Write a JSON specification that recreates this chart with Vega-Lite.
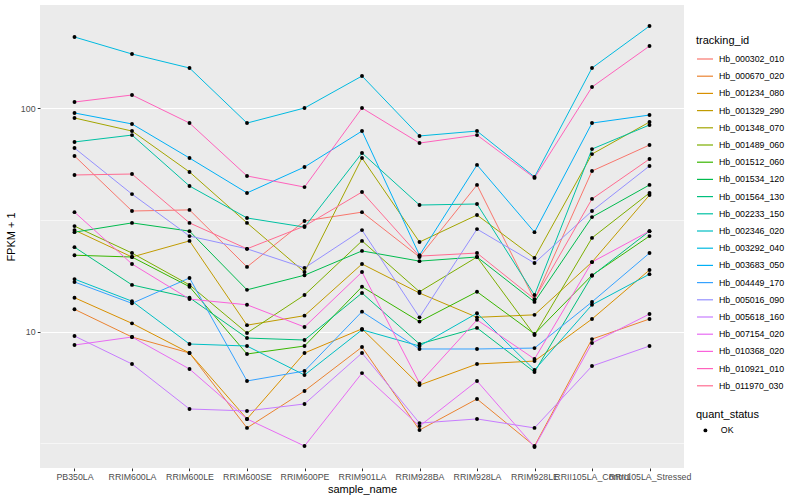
{
"$schema": "https://vega.github.io/schema/vega-lite/v6.json",
"width": 644,
"height": 463,
"autosize": {"type": "none"},
"padding": {"left": 40, "top": 5, "right": 116, "bottom": 32},
"background": "white",
"config": {
  "view": {"fill": "#EBEBEB", "stroke": null},
  "font": "Liberation Sans",
  "axis": {"labelFont": "Liberation Sans", "labelFontSize": 8.8, "labelColor": "#4D4D4D", "tickColor": "#333333", "tickSize": 2.75, "tickWidth": 1, "domain": false, "gridColor": "#FFFFFF", "gridWidth": 1.1, "titleFont": "Liberation Sans", "titleFontSize": 11, "titleFontWeight": "normal", "titleColor": "#000000", "labelPadding": 2.2},
  "legend": {"titleFont": "Liberation Sans", "titleFontSize": 11, "titleFontWeight": "normal", "titleColor": "#000000", "labelFont": "Liberation Sans", "labelFontSize": 8.8, "labelColor": "#000000"}
},
"data": {"values": [
{"tracking_id":"Hb_000302_010","sample_name":"PB350LA","fpkm_plus_1":61.2,"quant_status":"OK"},
{"tracking_id":"Hb_000302_010","sample_name":"RRIM600LA","fpkm_plus_1":34.7,"quant_status":"OK"},
{"tracking_id":"Hb_000302_010","sample_name":"RRIM600LE","fpkm_plus_1":35.1,"quant_status":"OK"},
{"tracking_id":"Hb_000302_010","sample_name":"RRIM600SE","fpkm_plus_1":19.5,"quant_status":"OK"},
{"tracking_id":"Hb_000302_010","sample_name":"RRIM600PE","fpkm_plus_1":31.3,"quant_status":"OK"},
{"tracking_id":"Hb_000302_010","sample_name":"RRIM901LA","fpkm_plus_1":34.3,"quant_status":"OK"},
{"tracking_id":"Hb_000302_010","sample_name":"RRIM928BA","fpkm_plus_1":21.6,"quant_status":"OK"},
{"tracking_id":"Hb_000302_010","sample_name":"RRIM928LA","fpkm_plus_1":45.4,"quant_status":"OK"},
{"tracking_id":"Hb_000302_010","sample_name":"RRIM928LE","fpkm_plus_1":13.9,"quant_status":"OK"},
{"tracking_id":"Hb_000302_010","sample_name":"RRII105LA_Control","fpkm_plus_1":52.4,"quant_status":"OK"},
{"tracking_id":"Hb_000302_010","sample_name":"RRII105LA_Stressed","fpkm_plus_1":68.5,"quant_status":"OK"},
{"tracking_id":"Hb_000670_020","sample_name":"PB350LA","fpkm_plus_1":12.6,"quant_status":"OK"},
{"tracking_id":"Hb_000670_020","sample_name":"RRIM600LA","fpkm_plus_1":9.47,"quant_status":"OK"},
{"tracking_id":"Hb_000670_020","sample_name":"RRIM600LE","fpkm_plus_1":8.03,"quant_status":"OK"},
{"tracking_id":"Hb_000670_020","sample_name":"RRIM600SE","fpkm_plus_1":3.71,"quant_status":"OK"},
{"tracking_id":"Hb_000670_020","sample_name":"RRIM600PE","fpkm_plus_1":5.43,"quant_status":"OK"},
{"tracking_id":"Hb_000670_020","sample_name":"RRIM901LA","fpkm_plus_1":8.54,"quant_status":"OK"},
{"tracking_id":"Hb_000670_020","sample_name":"RRIM928BA","fpkm_plus_1":3.63,"quant_status":"OK"},
{"tracking_id":"Hb_000670_020","sample_name":"RRIM928LA","fpkm_plus_1":5.0,"quant_status":"OK"},
{"tracking_id":"Hb_000670_020","sample_name":"RRIM928LE","fpkm_plus_1":3.08,"quant_status":"OK"},
{"tracking_id":"Hb_000670_020","sample_name":"RRII105LA_Control","fpkm_plus_1":9.27,"quant_status":"OK"},
{"tracking_id":"Hb_000670_020","sample_name":"RRII105LA_Stressed","fpkm_plus_1":11.4,"quant_status":"OK"},
{"tracking_id":"Hb_001234_080","sample_name":"PB350LA","fpkm_plus_1":14.2,"quant_status":"OK"},
{"tracking_id":"Hb_001234_080","sample_name":"RRIM600LA","fpkm_plus_1":10.9,"quant_status":"OK"},
{"tracking_id":"Hb_001234_080","sample_name":"RRIM600LE","fpkm_plus_1":8.03,"quant_status":"OK"},
{"tracking_id":"Hb_001234_080","sample_name":"RRIM600SE","fpkm_plus_1":4.07,"quant_status":"OK"},
{"tracking_id":"Hb_001234_080","sample_name":"RRIM600PE","fpkm_plus_1":8.03,"quant_status":"OK"},
{"tracking_id":"Hb_001234_080","sample_name":"RRIM901LA","fpkm_plus_1":10.3,"quant_status":"OK"},
{"tracking_id":"Hb_001234_080","sample_name":"RRIM928BA","fpkm_plus_1":5.77,"quant_status":"OK"},
{"tracking_id":"Hb_001234_080","sample_name":"RRIM928LA","fpkm_plus_1":7.17,"quant_status":"OK"},
{"tracking_id":"Hb_001234_080","sample_name":"RRIM928LE","fpkm_plus_1":7.39,"quant_status":"OK"},
{"tracking_id":"Hb_001234_080","sample_name":"RRII105LA_Control","fpkm_plus_1":11.4,"quant_status":"OK"},
{"tracking_id":"Hb_001234_080","sample_name":"RRII105LA_Stressed","fpkm_plus_1":18.9,"quant_status":"OK"},
{"tracking_id":"Hb_001329_290","sample_name":"PB350LA","fpkm_plus_1":28.5,"quant_status":"OK"},
{"tracking_id":"Hb_001329_290","sample_name":"RRIM600LA","fpkm_plus_1":21.6,"quant_status":"OK"},
{"tracking_id":"Hb_001329_290","sample_name":"RRIM600LE","fpkm_plus_1":25.5,"quant_status":"OK"},
{"tracking_id":"Hb_001329_290","sample_name":"RRIM600SE","fpkm_plus_1":10.7,"quant_status":"OK"},
{"tracking_id":"Hb_001329_290","sample_name":"RRIM600PE","fpkm_plus_1":11.8,"quant_status":"OK"},
{"tracking_id":"Hb_001329_290","sample_name":"RRIM901LA","fpkm_plus_1":20.1,"quant_status":"OK"},
{"tracking_id":"Hb_001329_290","sample_name":"RRIM928BA","fpkm_plus_1":14.9,"quant_status":"OK"},
{"tracking_id":"Hb_001329_290","sample_name":"RRIM928LA","fpkm_plus_1":11.6,"quant_status":"OK"},
{"tracking_id":"Hb_001329_290","sample_name":"RRIM928LE","fpkm_plus_1":11.9,"quant_status":"OK"},
{"tracking_id":"Hb_001329_290","sample_name":"RRII105LA_Control","fpkm_plus_1":20.5,"quant_status":"OK"},
{"tracking_id":"Hb_001329_290","sample_name":"RRII105LA_Stressed","fpkm_plus_1":40.9,"quant_status":"OK"},
{"tracking_id":"Hb_001348_070","sample_name":"PB350LA","fpkm_plus_1":90.5,"quant_status":"OK"},
{"tracking_id":"Hb_001348_070","sample_name":"RRIM600LA","fpkm_plus_1":79.1,"quant_status":"OK"},
{"tracking_id":"Hb_001348_070","sample_name":"RRIM600LE","fpkm_plus_1":51.9,"quant_status":"OK"},
{"tracking_id":"Hb_001348_070","sample_name":"RRIM600SE","fpkm_plus_1":30.7,"quant_status":"OK"},
{"tracking_id":"Hb_001348_070","sample_name":"RRIM600PE","fpkm_plus_1":18.5,"quant_status":"OK"},
{"tracking_id":"Hb_001348_070","sample_name":"RRIM901LA","fpkm_plus_1":59.9,"quant_status":"OK"},
{"tracking_id":"Hb_001348_070","sample_name":"RRIM928BA","fpkm_plus_1":25.2,"quant_status":"OK"},
{"tracking_id":"Hb_001348_070","sample_name":"RRIM928LA","fpkm_plus_1":33.3,"quant_status":"OK"},
{"tracking_id":"Hb_001348_070","sample_name":"RRIM928LE","fpkm_plus_1":21.4,"quant_status":"OK"},
{"tracking_id":"Hb_001348_070","sample_name":"RRII105LA_Control","fpkm_plus_1":62.4,"quant_status":"OK"},
{"tracking_id":"Hb_001348_070","sample_name":"RRII105LA_Stressed","fpkm_plus_1":86.8,"quant_status":"OK"},
{"tracking_id":"Hb_001489_060","sample_name":"PB350LA","fpkm_plus_1":29.7,"quant_status":"OK"},
{"tracking_id":"Hb_001489_060","sample_name":"RRIM600LA","fpkm_plus_1":22.5,"quant_status":"OK"},
{"tracking_id":"Hb_001489_060","sample_name":"RRIM600LE","fpkm_plus_1":16.2,"quant_status":"OK"},
{"tracking_id":"Hb_001489_060","sample_name":"RRIM600SE","fpkm_plus_1":9.87,"quant_status":"OK"},
{"tracking_id":"Hb_001489_060","sample_name":"RRIM600PE","fpkm_plus_1":14.6,"quant_status":"OK"},
{"tracking_id":"Hb_001489_060","sample_name":"RRIM901LA","fpkm_plus_1":25.5,"quant_status":"OK"},
{"tracking_id":"Hb_001489_060","sample_name":"RRIM928BA","fpkm_plus_1":15.1,"quant_status":"OK"},
{"tracking_id":"Hb_001489_060","sample_name":"RRIM928LA","fpkm_plus_1":21.6,"quant_status":"OK"},
{"tracking_id":"Hb_001489_060","sample_name":"RRIM928LE","fpkm_plus_1":9.66,"quant_status":"OK"},
{"tracking_id":"Hb_001489_060","sample_name":"RRII105LA_Control","fpkm_plus_1":26.3,"quant_status":"OK"},
{"tracking_id":"Hb_001489_060","sample_name":"RRII105LA_Stressed","fpkm_plus_1":41.8,"quant_status":"OK"},
{"tracking_id":"Hb_001512_060","sample_name":"PB350LA","fpkm_plus_1":22.0,"quant_status":"OK"},
{"tracking_id":"Hb_001512_060","sample_name":"RRIM600LA","fpkm_plus_1":21.6,"quant_status":"OK"},
{"tracking_id":"Hb_001512_060","sample_name":"RRIM600LE","fpkm_plus_1":15.9,"quant_status":"OK"},
{"tracking_id":"Hb_001512_060","sample_name":"RRIM600SE","fpkm_plus_1":7.95,"quant_status":"OK"},
{"tracking_id":"Hb_001512_060","sample_name":"RRIM600PE","fpkm_plus_1":8.63,"quant_status":"OK"},
{"tracking_id":"Hb_001512_060","sample_name":"RRIM901LA","fpkm_plus_1":15.9,"quant_status":"OK"},
{"tracking_id":"Hb_001512_060","sample_name":"RRIM928BA","fpkm_plus_1":11.1,"quant_status":"OK"},
{"tracking_id":"Hb_001512_060","sample_name":"RRIM928LA","fpkm_plus_1":15.1,"quant_status":"OK"},
{"tracking_id":"Hb_001512_060","sample_name":"RRIM928LE","fpkm_plus_1":9.77,"quant_status":"OK"},
{"tracking_id":"Hb_001512_060","sample_name":"RRII105LA_Control","fpkm_plus_1":17.9,"quant_status":"OK"},
{"tracking_id":"Hb_001512_060","sample_name":"RRII105LA_Stressed","fpkm_plus_1":26.8,"quant_status":"OK"},
{"tracking_id":"Hb_001534_120","sample_name":"PB350LA","fpkm_plus_1":27.9,"quant_status":"OK"},
{"tracking_id":"Hb_001534_120","sample_name":"RRIM600LA","fpkm_plus_1":30.7,"quant_status":"OK"},
{"tracking_id":"Hb_001534_120","sample_name":"RRIM600LE","fpkm_plus_1":28.2,"quant_status":"OK"},
{"tracking_id":"Hb_001534_120","sample_name":"RRIM600SE","fpkm_plus_1":15.4,"quant_status":"OK"},
{"tracking_id":"Hb_001534_120","sample_name":"RRIM600PE","fpkm_plus_1":17.9,"quant_status":"OK"},
{"tracking_id":"Hb_001534_120","sample_name":"RRIM901LA","fpkm_plus_1":23.0,"quant_status":"OK"},
{"tracking_id":"Hb_001534_120","sample_name":"RRIM928BA","fpkm_plus_1":20.7,"quant_status":"OK"},
{"tracking_id":"Hb_001534_120","sample_name":"RRIM928LA","fpkm_plus_1":21.6,"quant_status":"OK"},
{"tracking_id":"Hb_001534_120","sample_name":"RRIM928LE","fpkm_plus_1":13.6,"quant_status":"OK"},
{"tracking_id":"Hb_001534_120","sample_name":"RRII105LA_Control","fpkm_plus_1":32.6,"quant_status":"OK"},
{"tracking_id":"Hb_001534_120","sample_name":"RRII105LA_Stressed","fpkm_plus_1":45.4,"quant_status":"OK"},
{"tracking_id":"Hb_001564_130","sample_name":"PB350LA","fpkm_plus_1":23.9,"quant_status":"OK"},
{"tracking_id":"Hb_001564_130","sample_name":"RRIM600LA","fpkm_plus_1":16.2,"quant_status":"OK"},
{"tracking_id":"Hb_001564_130","sample_name":"RRIM600LE","fpkm_plus_1":14.2,"quant_status":"OK"},
{"tracking_id":"Hb_001564_130","sample_name":"RRIM600SE","fpkm_plus_1":9.37,"quant_status":"OK"},
{"tracking_id":"Hb_001564_130","sample_name":"RRIM600PE","fpkm_plus_1":9.18,"quant_status":"OK"},
{"tracking_id":"Hb_001564_130","sample_name":"RRIM901LA","fpkm_plus_1":14.9,"quant_status":"OK"},
{"tracking_id":"Hb_001564_130","sample_name":"RRIM928BA","fpkm_plus_1":8.81,"quant_status":"OK"},
{"tracking_id":"Hb_001564_130","sample_name":"RRIM928LA","fpkm_plus_1":10.4,"quant_status":"OK"},
{"tracking_id":"Hb_001564_130","sample_name":"RRIM928LE","fpkm_plus_1":6.6,"quant_status":"OK"},
{"tracking_id":"Hb_001564_130","sample_name":"RRII105LA_Control","fpkm_plus_1":17.8,"quant_status":"OK"},
{"tracking_id":"Hb_001564_130","sample_name":"RRII105LA_Stressed","fpkm_plus_1":28.2,"quant_status":"OK"},
{"tracking_id":"Hb_002233_150","sample_name":"PB350LA","fpkm_plus_1":70.7,"quant_status":"OK"},
{"tracking_id":"Hb_002233_150","sample_name":"RRIM600LA","fpkm_plus_1":75.9,"quant_status":"OK"},
{"tracking_id":"Hb_002233_150","sample_name":"RRIM600LE","fpkm_plus_1":44.9,"quant_status":"OK"},
{"tracking_id":"Hb_002233_150","sample_name":"RRIM600SE","fpkm_plus_1":32.3,"quant_status":"OK"},
{"tracking_id":"Hb_002233_150","sample_name":"RRIM600PE","fpkm_plus_1":29.4,"quant_status":"OK"},
{"tracking_id":"Hb_002233_150","sample_name":"RRIM901LA","fpkm_plus_1":63.1,"quant_status":"OK"},
{"tracking_id":"Hb_002233_150","sample_name":"RRIM928BA","fpkm_plus_1":36.9,"quant_status":"OK"},
{"tracking_id":"Hb_002233_150","sample_name":"RRIM928LA","fpkm_plus_1":37.3,"quant_status":"OK"},
{"tracking_id":"Hb_002233_150","sample_name":"RRIM928LE","fpkm_plus_1":14.6,"quant_status":"OK"},
{"tracking_id":"Hb_002233_150","sample_name":"RRII105LA_Control","fpkm_plus_1":65.7,"quant_status":"OK"},
{"tracking_id":"Hb_002233_150","sample_name":"RRII105LA_Stressed","fpkm_plus_1":84.2,"quant_status":"OK"},
{"tracking_id":"Hb_002346_020","sample_name":"PB350LA","fpkm_plus_1":17.2,"quant_status":"OK"},
{"tracking_id":"Hb_002346_020","sample_name":"RRIM600LA","fpkm_plus_1":13.7,"quant_status":"OK"},
{"tracking_id":"Hb_002346_020","sample_name":"RRIM600LE","fpkm_plus_1":8.81,"quant_status":"OK"},
{"tracking_id":"Hb_002346_020","sample_name":"RRIM600SE","fpkm_plus_1":8.63,"quant_status":"OK"},
{"tracking_id":"Hb_002346_020","sample_name":"RRIM600PE","fpkm_plus_1":6.4,"quant_status":"OK"},
{"tracking_id":"Hb_002346_020","sample_name":"RRIM901LA","fpkm_plus_1":10.2,"quant_status":"OK"},
{"tracking_id":"Hb_002346_020","sample_name":"RRIM928BA","fpkm_plus_1":8.63,"quant_status":"OK"},
{"tracking_id":"Hb_002346_020","sample_name":"RRIM928LA","fpkm_plus_1":12.1,"quant_status":"OK"},
{"tracking_id":"Hb_002346_020","sample_name":"RRIM928LE","fpkm_plus_1":6.74,"quant_status":"OK"},
{"tracking_id":"Hb_002346_020","sample_name":"RRII105LA_Control","fpkm_plus_1":13.2,"quant_status":"OK"},
{"tracking_id":"Hb_002346_020","sample_name":"RRII105LA_Stressed","fpkm_plus_1":18.1,"quant_status":"OK"},
{"tracking_id":"Hb_003292_040","sample_name":"PB350LA","fpkm_plus_1":208.5,"quant_status":"OK"},
{"tracking_id":"Hb_003292_040","sample_name":"RRIM600LA","fpkm_plus_1":175.0,"quant_status":"OK"},
{"tracking_id":"Hb_003292_040","sample_name":"RRIM600LE","fpkm_plus_1":151.5,"quant_status":"OK"},
{"tracking_id":"Hb_003292_040","sample_name":"RRIM600SE","fpkm_plus_1":85.9,"quant_status":"OK"},
{"tracking_id":"Hb_003292_040","sample_name":"RRIM600PE","fpkm_plus_1":100.3,"quant_status":"OK"},
{"tracking_id":"Hb_003292_040","sample_name":"RRIM901LA","fpkm_plus_1":139.5,"quant_status":"OK"},
{"tracking_id":"Hb_003292_040","sample_name":"RRIM928BA","fpkm_plus_1":75.2,"quant_status":"OK"},
{"tracking_id":"Hb_003292_040","sample_name":"RRIM928LA","fpkm_plus_1":79.1,"quant_status":"OK"},
{"tracking_id":"Hb_003292_040","sample_name":"RRIM928LE","fpkm_plus_1":49.3,"quant_status":"OK"},
{"tracking_id":"Hb_003292_040","sample_name":"RRII105LA_Control","fpkm_plus_1":151.5,"quant_status":"OK"},
{"tracking_id":"Hb_003292_040","sample_name":"RRII105LA_Stressed","fpkm_plus_1":233.5,"quant_status":"OK"},
{"tracking_id":"Hb_003683_050","sample_name":"PB350LA","fpkm_plus_1":95.3,"quant_status":"OK"},
{"tracking_id":"Hb_003683_050","sample_name":"RRIM600LA","fpkm_plus_1":85.1,"quant_status":"OK"},
{"tracking_id":"Hb_003683_050","sample_name":"RRIM600LE","fpkm_plus_1":59.9,"quant_status":"OK"},
{"tracking_id":"Hb_003683_050","sample_name":"RRIM600SE","fpkm_plus_1":41.8,"quant_status":"OK"},
{"tracking_id":"Hb_003683_050","sample_name":"RRIM600PE","fpkm_plus_1":54.6,"quant_status":"OK"},
{"tracking_id":"Hb_003683_050","sample_name":"RRIM901LA","fpkm_plus_1":79.1,"quant_status":"OK"},
{"tracking_id":"Hb_003683_050","sample_name":"RRIM928BA","fpkm_plus_1":22.0,"quant_status":"OK"},
{"tracking_id":"Hb_003683_050","sample_name":"RRIM928LA","fpkm_plus_1":55.8,"quant_status":"OK"},
{"tracking_id":"Hb_003683_050","sample_name":"RRIM928LE","fpkm_plus_1":27.9,"quant_status":"OK"},
{"tracking_id":"Hb_003683_050","sample_name":"RRII105LA_Control","fpkm_plus_1":85.9,"quant_status":"OK"},
{"tracking_id":"Hb_003683_050","sample_name":"RRII105LA_Stressed","fpkm_plus_1":93.3,"quant_status":"OK"},
{"tracking_id":"Hb_004449_170","sample_name":"PB350LA","fpkm_plus_1":16.7,"quant_status":"OK"},
{"tracking_id":"Hb_004449_170","sample_name":"RRIM600LA","fpkm_plus_1":13.4,"quant_status":"OK"},
{"tracking_id":"Hb_004449_170","sample_name":"RRIM600LE","fpkm_plus_1":17.4,"quant_status":"OK"},
{"tracking_id":"Hb_004449_170","sample_name":"RRIM600SE","fpkm_plus_1":6.02,"quant_status":"OK"},
{"tracking_id":"Hb_004449_170","sample_name":"RRIM600PE","fpkm_plus_1":6.67,"quant_status":"OK"},
{"tracking_id":"Hb_004449_170","sample_name":"RRIM901LA","fpkm_plus_1":12.3,"quant_status":"OK"},
{"tracking_id":"Hb_004449_170","sample_name":"RRIM928BA","fpkm_plus_1":8.37,"quant_status":"OK"},
{"tracking_id":"Hb_004449_170","sample_name":"RRIM928LA","fpkm_plus_1":8.37,"quant_status":"OK"},
{"tracking_id":"Hb_004449_170","sample_name":"RRIM928LE","fpkm_plus_1":8.45,"quant_status":"OK"},
{"tracking_id":"Hb_004449_170","sample_name":"RRII105LA_Control","fpkm_plus_1":13.6,"quant_status":"OK"},
{"tracking_id":"Hb_004449_170","sample_name":"RRII105LA_Stressed","fpkm_plus_1":22.5,"quant_status":"OK"},
{"tracking_id":"Hb_005016_090","sample_name":"PB350LA","fpkm_plus_1":66.4,"quant_status":"OK"},
{"tracking_id":"Hb_005016_090","sample_name":"RRIM600LA","fpkm_plus_1":41.3,"quant_status":"OK"},
{"tracking_id":"Hb_005016_090","sample_name":"RRIM600LE","fpkm_plus_1":26.8,"quant_status":"OK"},
{"tracking_id":"Hb_005016_090","sample_name":"RRIM600SE","fpkm_plus_1":23.5,"quant_status":"OK"},
{"tracking_id":"Hb_005016_090","sample_name":"RRIM600PE","fpkm_plus_1":19.3,"quant_status":"OK"},
{"tracking_id":"Hb_005016_090","sample_name":"RRIM901LA","fpkm_plus_1":28.5,"quant_status":"OK"},
{"tracking_id":"Hb_005016_090","sample_name":"RRIM928BA","fpkm_plus_1":11.6,"quant_status":"OK"},
{"tracking_id":"Hb_005016_090","sample_name":"RRIM928LA","fpkm_plus_1":28.8,"quant_status":"OK"},
{"tracking_id":"Hb_005016_090","sample_name":"RRIM928LE","fpkm_plus_1":20.3,"quant_status":"OK"},
{"tracking_id":"Hb_005016_090","sample_name":"RRII105LA_Control","fpkm_plus_1":34.7,"quant_status":"OK"},
{"tracking_id":"Hb_005016_090","sample_name":"RRII105LA_Stressed","fpkm_plus_1":55.2,"quant_status":"OK"},
{"tracking_id":"Hb_005618_160","sample_name":"PB350LA","fpkm_plus_1":9.57,"quant_status":"OK"},
{"tracking_id":"Hb_005618_160","sample_name":"RRIM600LA","fpkm_plus_1":7.17,"quant_status":"OK"},
{"tracking_id":"Hb_005618_160","sample_name":"RRIM600LE","fpkm_plus_1":4.51,"quant_status":"OK"},
{"tracking_id":"Hb_005618_160","sample_name":"RRIM600SE","fpkm_plus_1":4.42,"quant_status":"OK"},
{"tracking_id":"Hb_005618_160","sample_name":"RRIM600PE","fpkm_plus_1":4.75,"quant_status":"OK"},
{"tracking_id":"Hb_005618_160","sample_name":"RRIM901LA","fpkm_plus_1":8.03,"quant_status":"OK"},
{"tracking_id":"Hb_005618_160","sample_name":"RRIM928BA","fpkm_plus_1":3.9,"quant_status":"OK"},
{"tracking_id":"Hb_005618_160","sample_name":"RRIM928LA","fpkm_plus_1":4.07,"quant_status":"OK"},
{"tracking_id":"Hb_005618_160","sample_name":"RRIM928LE","fpkm_plus_1":3.71,"quant_status":"OK"},
{"tracking_id":"Hb_005618_160","sample_name":"RRII105LA_Control","fpkm_plus_1":7.02,"quant_status":"OK"},
{"tracking_id":"Hb_005618_160","sample_name":"RRII105LA_Stressed","fpkm_plus_1":8.63,"quant_status":"OK"},
{"tracking_id":"Hb_007154_020","sample_name":"PB350LA","fpkm_plus_1":8.72,"quant_status":"OK"},
{"tracking_id":"Hb_007154_020","sample_name":"RRIM600LA","fpkm_plus_1":9.47,"quant_status":"OK"},
{"tracking_id":"Hb_007154_020","sample_name":"RRIM600LE","fpkm_plus_1":6.81,"quant_status":"OK"},
{"tracking_id":"Hb_007154_020","sample_name":"RRIM600SE","fpkm_plus_1":4.07,"quant_status":"OK"},
{"tracking_id":"Hb_007154_020","sample_name":"RRIM600PE","fpkm_plus_1":3.08,"quant_status":"OK"},
{"tracking_id":"Hb_007154_020","sample_name":"RRIM901LA","fpkm_plus_1":6.53,"quant_status":"OK"},
{"tracking_id":"Hb_007154_020","sample_name":"RRIM928BA","fpkm_plus_1":3.78,"quant_status":"OK"},
{"tracking_id":"Hb_007154_020","sample_name":"RRIM928LA","fpkm_plus_1":6.02,"quant_status":"OK"},
{"tracking_id":"Hb_007154_020","sample_name":"RRIM928LE","fpkm_plus_1":3.05,"quant_status":"OK"},
{"tracking_id":"Hb_007154_020","sample_name":"RRII105LA_Control","fpkm_plus_1":8.9,"quant_status":"OK"},
{"tracking_id":"Hb_007154_020","sample_name":"RRII105LA_Stressed","fpkm_plus_1":12.0,"quant_status":"OK"},
{"tracking_id":"Hb_010368_020","sample_name":"PB350LA","fpkm_plus_1":34.3,"quant_status":"OK"},
{"tracking_id":"Hb_010368_020","sample_name":"RRIM600LA","fpkm_plus_1":20.1,"quant_status":"OK"},
{"tracking_id":"Hb_010368_020","sample_name":"RRIM600LE","fpkm_plus_1":14.0,"quant_status":"OK"},
{"tracking_id":"Hb_010368_020","sample_name":"RRIM600SE","fpkm_plus_1":13.2,"quant_status":"OK"},
{"tracking_id":"Hb_010368_020","sample_name":"RRIM600PE","fpkm_plus_1":10.5,"quant_status":"OK"},
{"tracking_id":"Hb_010368_020","sample_name":"RRIM901LA","fpkm_plus_1":18.5,"quant_status":"OK"},
{"tracking_id":"Hb_010368_020","sample_name":"RRIM928BA","fpkm_plus_1":5.89,"quant_status":"OK"},
{"tracking_id":"Hb_010368_020","sample_name":"RRIM928LA","fpkm_plus_1":11.3,"quant_status":"OK"},
{"tracking_id":"Hb_010368_020","sample_name":"RRIM928LE","fpkm_plus_1":7.55,"quant_status":"OK"},
{"tracking_id":"Hb_010368_020","sample_name":"RRII105LA_Control","fpkm_plus_1":20.5,"quant_status":"OK"},
{"tracking_id":"Hb_010368_020","sample_name":"RRII105LA_Stressed","fpkm_plus_1":28.2,"quant_status":"OK"},
{"tracking_id":"Hb_010921_010","sample_name":"PB350LA","fpkm_plus_1":106.7,"quant_status":"OK"},
{"tracking_id":"Hb_010921_010","sample_name":"RRIM600LA","fpkm_plus_1":114.7,"quant_status":"OK"},
{"tracking_id":"Hb_010921_010","sample_name":"RRIM600LE","fpkm_plus_1":85.9,"quant_status":"OK"},
{"tracking_id":"Hb_010921_010","sample_name":"RRIM600SE","fpkm_plus_1":49.8,"quant_status":"OK"},
{"tracking_id":"Hb_010921_010","sample_name":"RRIM600PE","fpkm_plus_1":44.4,"quant_status":"OK"},
{"tracking_id":"Hb_010921_010","sample_name":"RRIM901LA","fpkm_plus_1":100.3,"quant_status":"OK"},
{"tracking_id":"Hb_010921_010","sample_name":"RRIM928BA","fpkm_plus_1":69.9,"quant_status":"OK"},
{"tracking_id":"Hb_010921_010","sample_name":"RRIM928LA","fpkm_plus_1":75.9,"quant_status":"OK"},
{"tracking_id":"Hb_010921_010","sample_name":"RRIM928LE","fpkm_plus_1":48.8,"quant_status":"OK"},
{"tracking_id":"Hb_010921_010","sample_name":"RRII105LA_Control","fpkm_plus_1":124.5,"quant_status":"OK"},
{"tracking_id":"Hb_010921_010","sample_name":"RRII105LA_Stressed","fpkm_plus_1":190.0,"quant_status":"OK"},
{"tracking_id":"Hb_011970_030","sample_name":"PB350LA","fpkm_plus_1":50.3,"quant_status":"OK"},
{"tracking_id":"Hb_011970_030","sample_name":"RRIM600LA","fpkm_plus_1":50.8,"quant_status":"OK"},
{"tracking_id":"Hb_011970_030","sample_name":"RRIM600LE","fpkm_plus_1":30.7,"quant_status":"OK"},
{"tracking_id":"Hb_011970_030","sample_name":"RRIM600SE","fpkm_plus_1":23.5,"quant_status":"OK"},
{"tracking_id":"Hb_011970_030","sample_name":"RRIM600PE","fpkm_plus_1":29.7,"quant_status":"OK"},
{"tracking_id":"Hb_011970_030","sample_name":"RRIM901LA","fpkm_plus_1":42.2,"quant_status":"OK"},
{"tracking_id":"Hb_011970_030","sample_name":"RRIM928BA","fpkm_plus_1":21.8,"quant_status":"OK"},
{"tracking_id":"Hb_011970_030","sample_name":"RRIM928LA","fpkm_plus_1":22.5,"quant_status":"OK"},
{"tracking_id":"Hb_011970_030","sample_name":"RRIM928LE","fpkm_plus_1":14.0,"quant_status":"OK"},
{"tracking_id":"Hb_011970_030","sample_name":"RRII105LA_Control","fpkm_plus_1":39.3,"quant_status":"OK"},
{"tracking_id":"Hb_011970_030","sample_name":"RRII105LA_Stressed","fpkm_plus_1":59.3,"quant_status":"OK"}
]},
"encoding": {
  "x": {"field": "sample_name", "type": "ordinal", "title": "sample_name",
        "sort": ["PB350LA","RRIM600LA","RRIM600LE","RRIM600SE","RRIM600PE","RRIM901LA","RRIM928BA","RRIM928LA","RRIM928LE","RRII105LA_Control","RRII105LA_Stressed"],
        "scale": {"type": "point", "padding": 0.6},
        "axis": {"labelAngle": 0, "labelOverlap": false, "labelBound": false, "labelFlush": false, "titlePadding": 2, "gridWidth": 1.1}},
  "y": {"field": "fpkm_plus_1", "type": "quantitative", "title": "FPKM + 1",
        "scale": {"type": "log", "domain": [2.455, 290], "nice": false, "zero": false},
        "axis": {"values": [3.1623, 10, 31.623, 100],
                 "labelExpr": "datum.value == 10 ? '10' : (datum.value == 100 ? '100' : '')",
                 "gridWidth": {"condition": {"test": "datum.value == 10 || datum.value == 100", "value": 1.1}, "value": 0.55},
                 "tickOpacity": {"condition": {"test": "datum.value == 10 || datum.value == 100", "value": 1}, "value": 0},
                 "titlePadding": 4}}
},
"layer": [
  {"mark": {"type": "line", "strokeWidth": 1},
   "encoding": {"color": {"field": "tracking_id", "type": "nominal", "title": "tracking_id",
      "scale": {"range": ["#F8766D","#EA8331","#D89000","#C09B00","#A3A500","#7CAE00","#39B600","#00BB4E","#00BF7D","#00C1A3","#00BFC4","#00BAE0","#00B0F6","#35A2FF","#9590FF","#C77CFF","#E76BF3","#FA62DB","#FF62BC","#FF6C91"]},
      "legend": {"orient": "none", "legendX": 656, "legendY": 30, "symbolType": "stroke", "symbolSize": 256, "symbolStrokeWidth": 1.2, "rowPadding": 3.2, "labelOffset": 5, "titlePadding": 4, "padding": 0}}}},
  {"mark": {"type": "point", "filled": true, "size": 15, "color": "#000000", "opacity": 1, "strokeWidth": 0},
   "encoding": {"shape": {"field": "quant_status", "type": "nominal", "title": "quant_status",
      "scale": {"range": ["circle"]},
      "legend": {"orient": "none", "legendX": 656, "legendY": 403.5, "symbolSize": 15, "symbolFillColor": "#000000", "symbolStrokeColor": "#000000", "symbolOffset": 5, "labelOffset": 11, "titlePadding": 6.5, "padding": 0}}}}
]
}
